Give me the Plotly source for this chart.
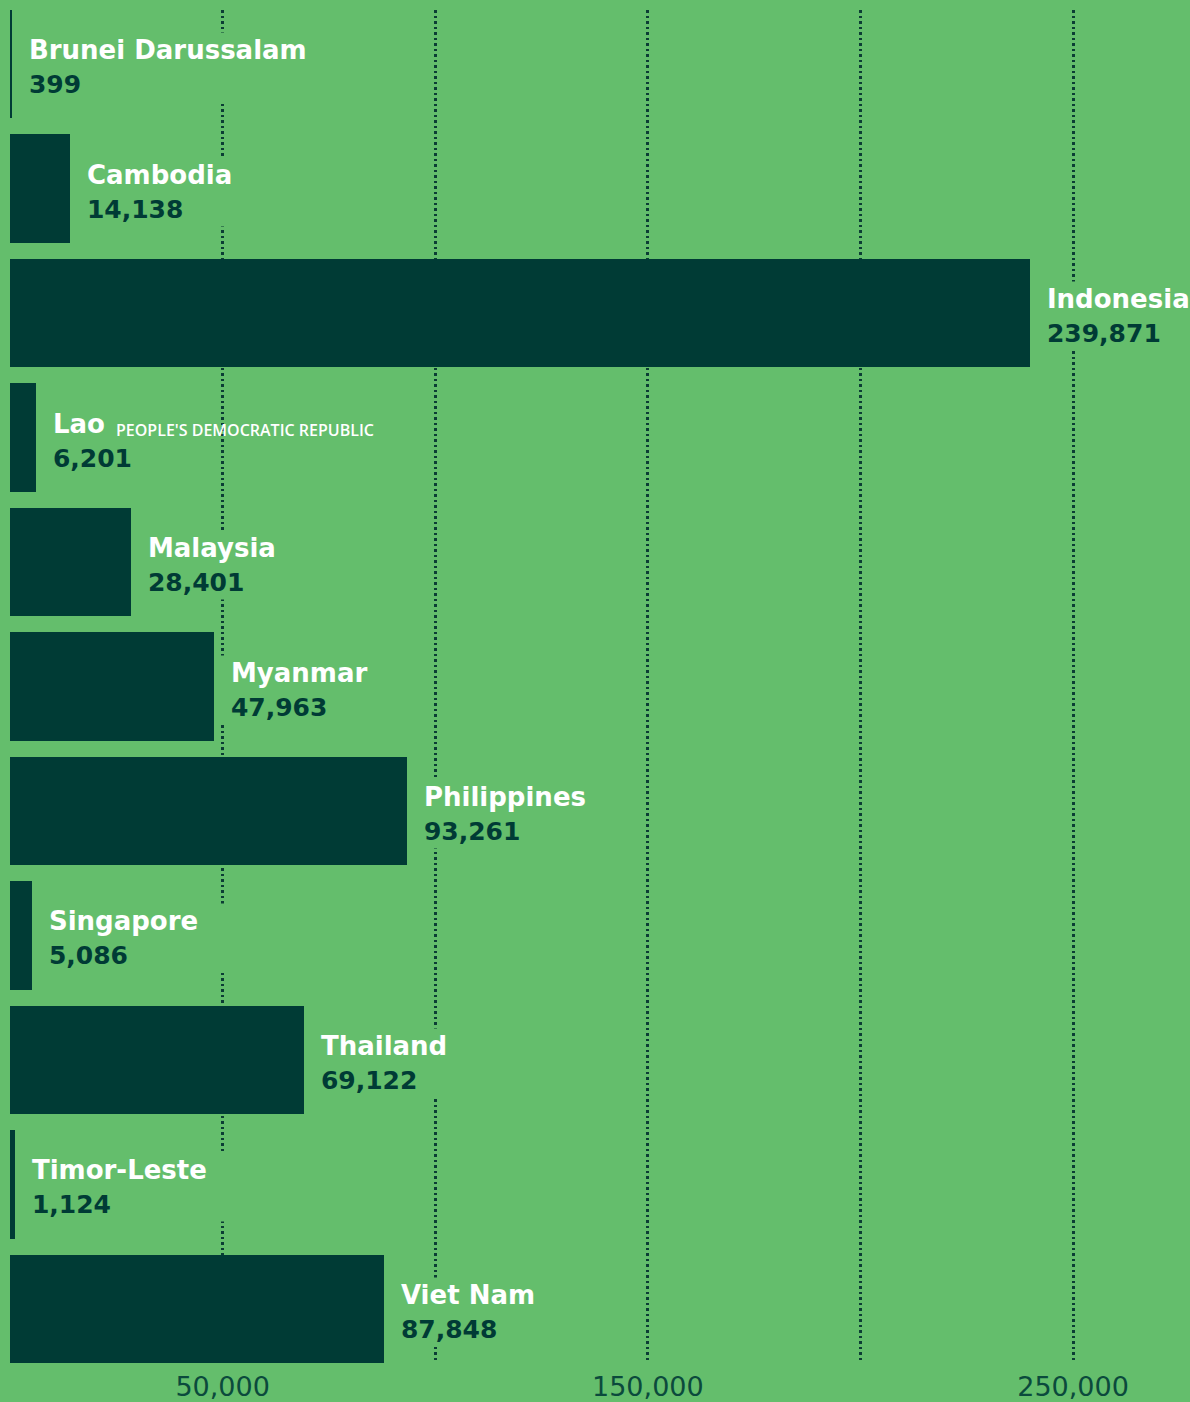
import plotly.graph_objects as go

# Values per country
countries = [
    "Brunei Darussalam", "Cambodia", "Indonesia", "Lao", "Malaysia", "Myanmar",
    "Philippines", "Singapore", "Thailand", "Timor-Leste", "Viet Nam",
]
values = [399, 14138, 239871, 6201, 28401, 47963, 93261, 5086, 69122, 1124, 87848]
value_labels = ["399", "14,138", "239,871", "6,201", "28,401", "47,963",
                "93,261", "5,086", "69,122", "1,124", "87,848"]
name_suffix = {"Lao": "PEOPLE'S DEMOCRATIC REPUBLIC"}

tick_values = [50000, 100000, 150000, 200000, 250000]
tick_text = ["50,000", "", "150,000", "", "250,000"]

BG = "#64BE6C"
DARK = "#003B35"
FONT = "DejaVu Sans"

fig = go.Figure(
    go.Bar(
        x=values,
        y=countries,
        orientation="h",
        width=0.87,
        marker=dict(color=DARK, line=dict(width=0)),
        hoverinfo="skip",
    )
)

sp = "&nbsp;"
lead = f"<span style='font-size:20px'>{sp*2}</span>"
annotations = []
for name, val, lab in zip(countries, values, value_labels):
    tail = "" if val == max(values) else sp * 4
    text = (
        f"{lead}<span style='color:#FFFFFF'>{name}</span>{tail}<br>"
        f"{lead}<span style='color:{DARK};font-size:25px'>{lab}</span>{tail}"
    )
    annotations.append(dict(
        x=val, y=name, xref="x", yref="y",
        text=text, showarrow=False,
        xanchor="left", yanchor="middle", align="left",
        xshift=0, yshift=-3, borderpad=2,
        bgcolor=BG,
        font=dict(family=FONT, size=26, weight="bold", color="#FFFFFF"),
    ))
    if name in name_suffix:
        annotations.append(dict(
            x=val, y=name, xref="x", yref="y",
            text=name_suffix[name], showarrow=False,
            xanchor="left", yanchor="middle", align="left",
            xshift=78, yshift=8,
            font=dict(family="Open Sans", size=16, weight=600, color="#FFFFFF"),
        ))

fig.update_layout(
    width=1190, height=1402,
    margin=dict(l=10, r=0, t=10, b=39),
    paper_bgcolor=BG, plot_bgcolor=BG,
    showlegend=False,
    bargap=0,
    annotations=annotations,
    xaxis=dict(
        range=[0, 277500],
        tickvals=tick_values,
        ticktext=tick_text,
        showgrid=True,
        gridcolor="#0B3D34",
        gridwidth=2.5,
        griddash="2.5px,3px",
        zeroline=False,
        showline=False,
        ticks="",
        tickfont=dict(family=FONT, size=27, color="#0B4A3C"),
        ticklabelstandoff=5,
        layer="below traces",
    ),
    yaxis=dict(
        categoryorder="array",
        categoryarray=countries,
        range=[10.435, -0.435],
        showticklabels=False,
        showgrid=False,
        zeroline=False,
        showline=False,
        ticks="",
    ),
)

fig.write_html("out.html")
